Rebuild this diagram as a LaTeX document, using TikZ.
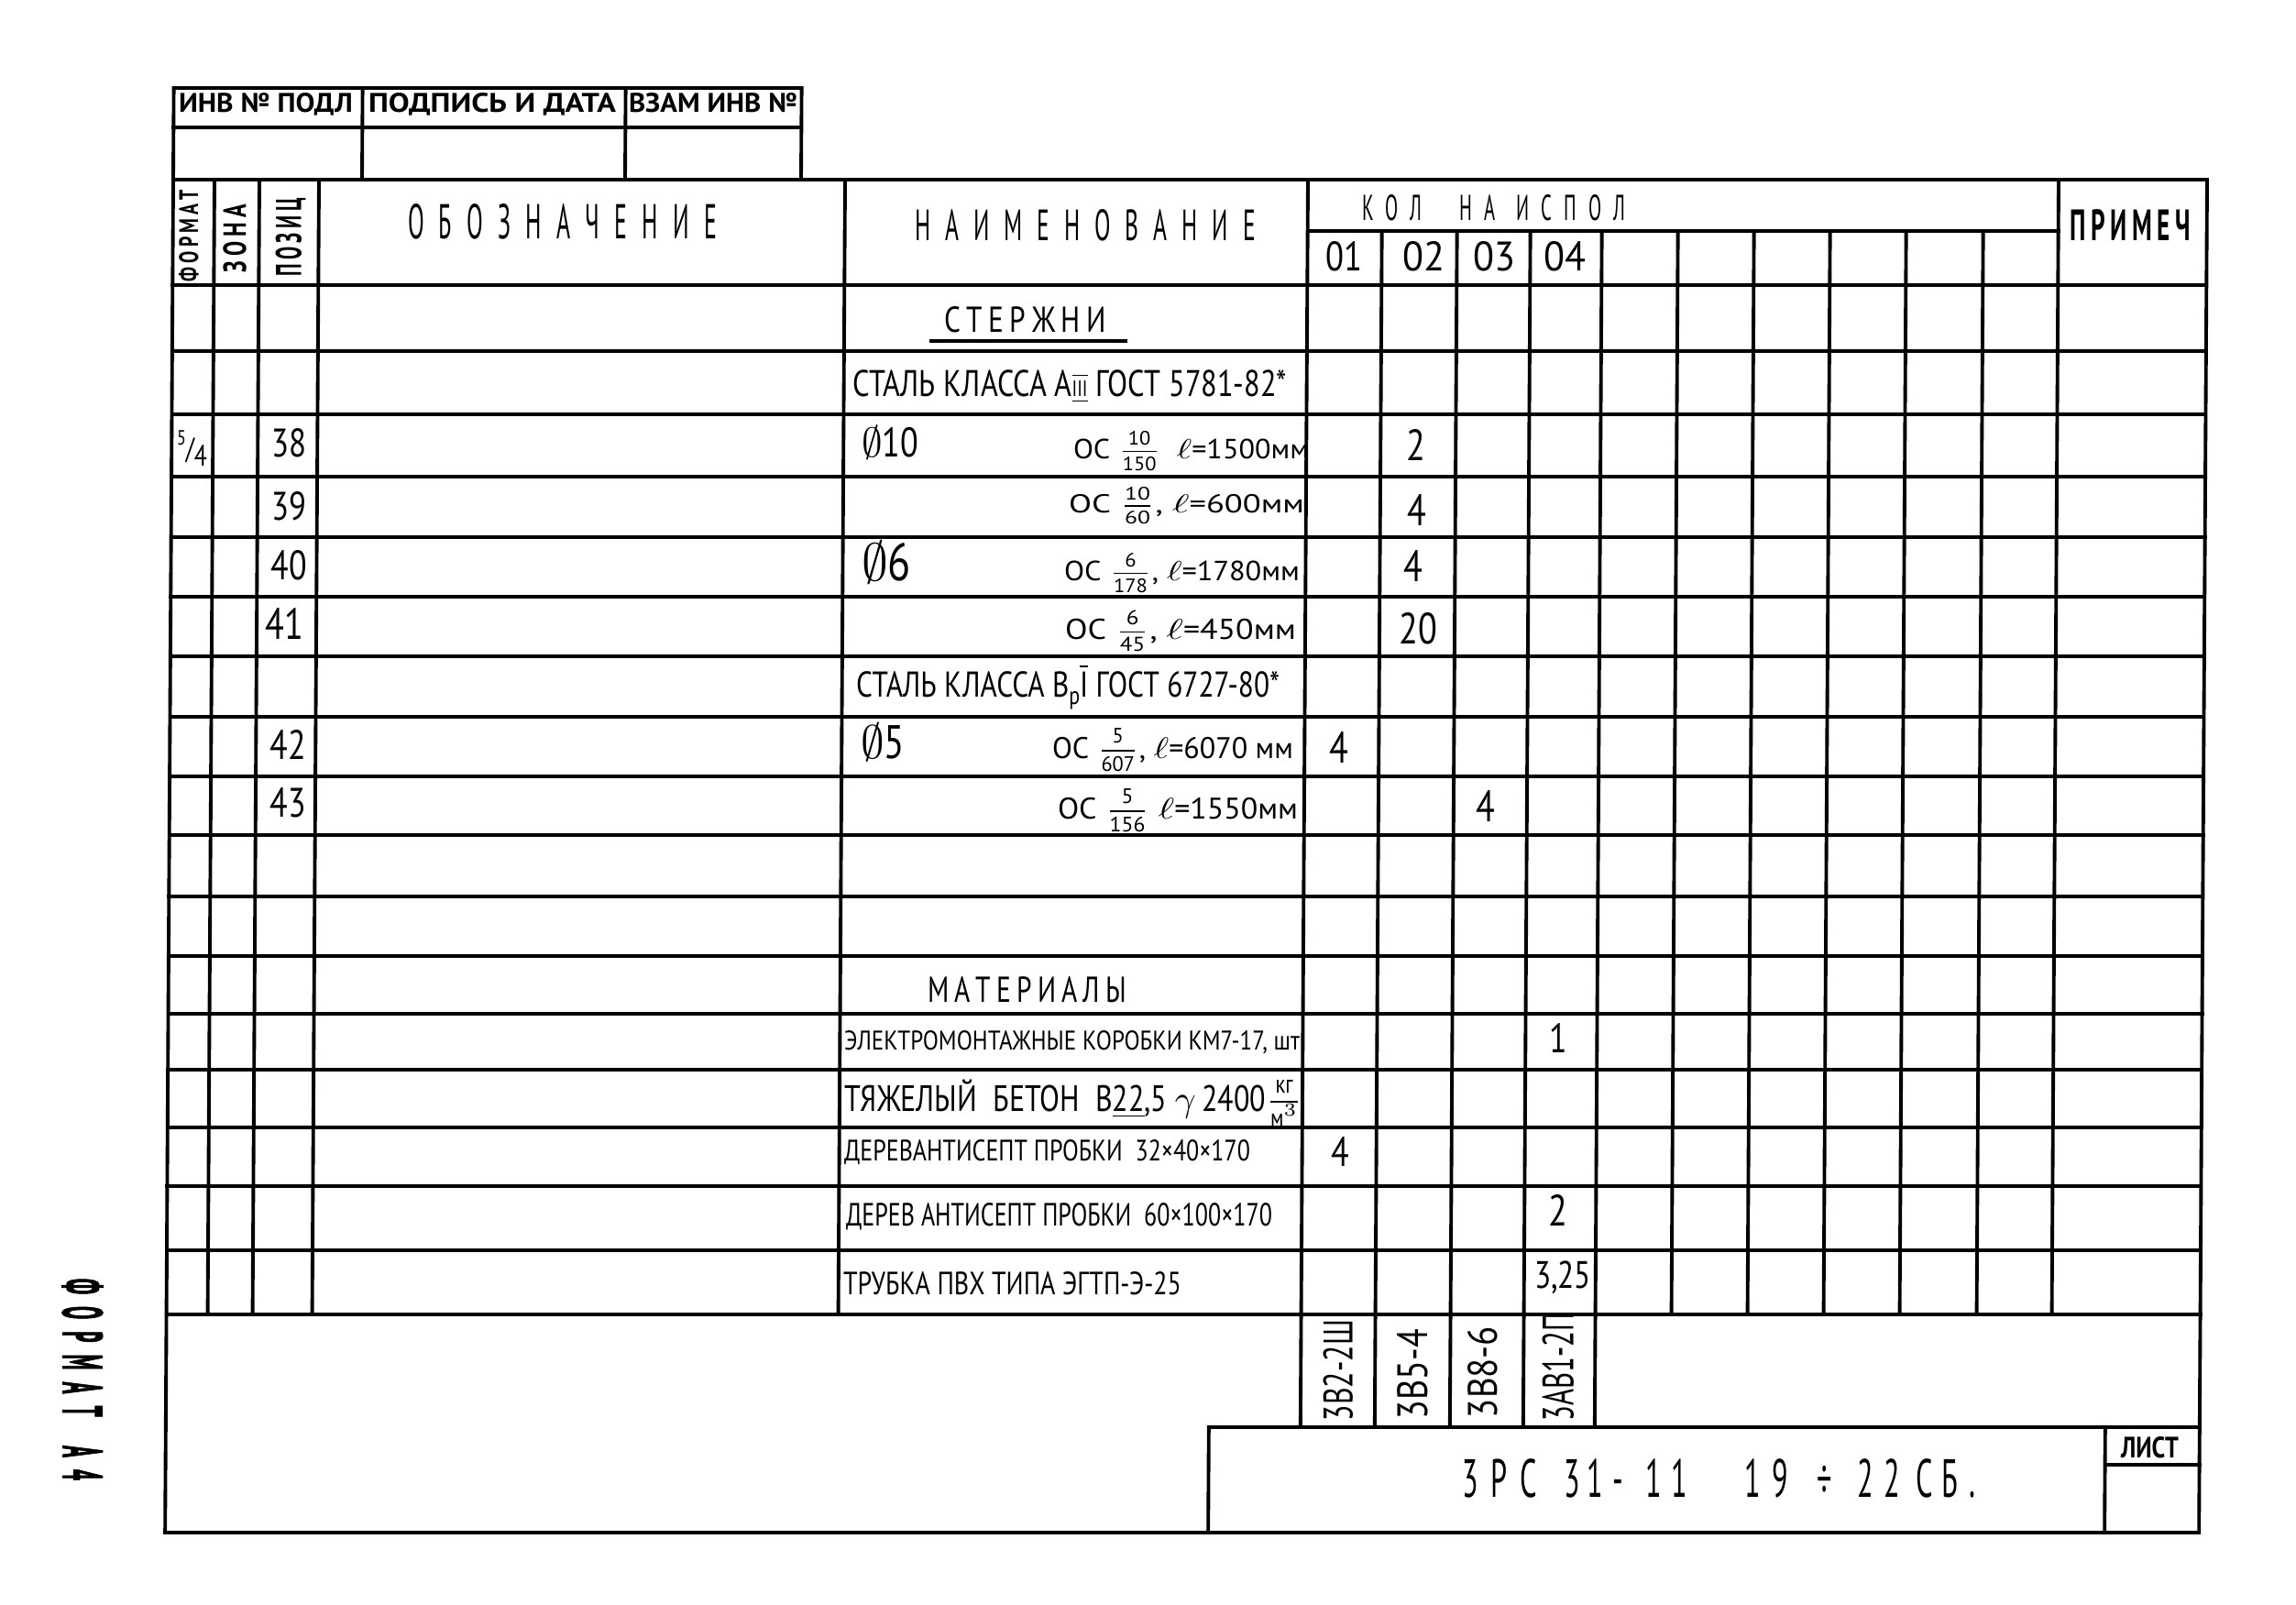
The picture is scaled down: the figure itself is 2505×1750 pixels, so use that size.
\documentclass[tikz,border=0pt]{standalone}
\usepackage{fontspec}
\usepackage{graphicx}
\setmainfont{PT Sans}[FakeStretch=0.8]
\newfontfamily\tfontX{PT Sans}[FakeStretch=0.55]
\newfontfamily\heavyX{PT Sans}[FakeStretch=0.8,FakeBold=2]
\newlength\uxx
\setlength\uxx{0.01cm}
\newcommand\Fit[3]{\resizebox{#1\uxx}{#2\uxx}{#3}}
\newcommand\Fw[2]{\resizebox{#1\uxx}{!}{#2}}
\newcommand\Fh[2]{\resizebox{!}{#1\uxx}{#2}}
\newcommand\Gs{\hspace{0.5em}}
\newcommand\Fr[2]{$\frac{\mbox{\fontsize{7}{7}\selectfont\raisebox{1pt}{#1}}}{\mbox{\fontsize{7}{7}\selectfont\raisebox{-1pt}{#2}}}$}
\begin{document}
\begin{tikzpicture}[x=0.01cm,y=-0.01cm,
  ln/.style={line width=1.1pt,line cap=rect},
  tx/.style={inner sep=0pt,outer sep=0pt,anchor=base west},
  tb/.style={inner sep=0pt,outer sep=0pt,anchor=base},
  tr/.style={inner sep=0pt,outer sep=0pt,anchor=center}]
\fill[white] (0,0) rectangle (2505,1750);
\begin{scope}[xslant=0.006,xshift=0.0118cm]
% top small table
\draw[ln] (189,96) rectangle (874,196);
\draw[ln] (189,139) -- (874,139);
\draw[ln] (395,96) -- (395,196);
\draw[ln] (682,96) -- (682,196);
% frame
\draw[ln] (189,196) -- (2408,196);
\draw[ln] (189,196) -- (189,1672) -- (2408,1672) -- (2408,196);
\foreach \y in {311,383,452,520,586,651,716,782,847,911,978,1043,1106,1167,1230,1294,1364,1434}
  \draw[ln] (189,\y) -- (2408,\y);
\draw[ln] (1427,252) -- (2246,252);
\foreach \x in {234,283,348,922,1427,2246} \draw[ln] (\x,196) -- (\x,1434);
\foreach \x in {1508,1590,1670,1748,1831,1914,1997,2080,2164} \draw[ln] (\x,252) -- (\x,1434);
\foreach \x in {1427,1508,1590,1670,1748} \draw[ln] (\x,1434) -- (\x,1557);
\draw[ln] (1327,1672) -- (1327,1557) -- (2408,1557);
\draw[ln] (2305,1557) -- (2305,1672);
\draw[ln] (2305,1598) -- (2408,1598);
\end{scope}
% top small table texts
\node[tx] (h1) at (195,122) {\Fit{190}{21}{\bfseries ИНВ № ПОДЛ}};
\node[tx] (h2) at (402,122) {\Fit{270}{21}{\bfseries ПОДПИСЬ И ДАТА}};
\node[tx] (h3) at (686,122) {\Fit{184}{21}{\bfseries ВЗАМ ИНВ №}};
% header
\node[tr,rotate=90] (h4) at (206,257) {\Fit{100}{21}{\bfseries Ф\,О\,Р\,М\,А\,Т}};
\node[tr,rotate=90] (h5) at (256,260) {\Fit{74}{25}{\bfseries З\,О\,Н\,А}};
\node[tr,rotate=90] (h6) at (317,259) {\Fit{85}{28}{\bfseries П\,О\,З\,И\,Ц}};
\node[tx] (h7) at (445,260) {\Fit{337}{38}{О\Gs Б\Gs О\Gs З\Gs Н\Gs А\Gs Ч\Gs Е\Gs Н\Gs И\Gs Е}};
\node[tx] (h8) at (998,262) {\Fit{372}{34}{Н\Gs А\Gs И\Gs М\Gs Е\Gs Н\Gs О\Gs В\Gs А\Gs Н\Gs И\Gs Е}};
\node[tx] (h9) at (1486,240) {\Fit{287}{28}{К\Gs О\Gs Л\hspace{1.6em}Н\Gs А\hspace{0.9em}И\Gs С\Gs П\Gs О\Gs Л}};
\node[tb] (c1) at (1466,295) {\Fit{40}{32}{01}};
\node[tb] (c2) at (1553,295) {\Fit{46}{32}{02}};
\node[tb] (c3) at (1630,295) {\Fit{46}{32}{03}};
\node[tb] (c4) at (1707,295) {\Fit{46}{32}{04}};
\node[tx] (h10) at (2258,262) {\Fit{132}{34}{\bfseries П\,Р\,И\,М\,Е\,Ч}};
% body
\node[tx] (b1) at (1030,362) {\Fit{177}{28}{С\,Т\,Е\,Р\,Ж\,Н\,И}};
\draw[line width=0.9pt] (1014,372) -- (1230,372);
\node[tx] (b2) at (930,432) {\Fw{474}{СТАЛЬ КЛАССА А{\fontsize{6}{6}\selectfont$\overline{\underline{\mbox{III}}}$} ГОСТ 5781-82*}};
\node[tx] (b3) at (940,498) {\Fw{62}{$\emptyset$10}};
\node[tx] (b4) at (1171,500) {\Fit{257}{30}{ОС \Fr{10}{150}\ \ $\ell$=1500мм}};
\node[tx] (b5) at (1166,559) {\Fit{257}{28}{ОС \Fr{10}{60}, $\ell$=600мм}};
\node[tx] (b6) at (940,633) {\Fw{54}{$\emptyset$6}};
\node[tx] (b7) at (1161,633) {\Fit{257}{30}{ОС \Fr{6}{178}, $\ell$=1780мм}};
\node[tx] (b8) at (1162,697) {\Fit{252}{31}{ОС \Fr{6}{45}, $\ell$=450мм}};
\node[tx] (b9) at (934,760) {\Fw{462}{СТАЛЬ КЛАССА В\raisebox{-0.45ex}{\fontsize{7}{7}\selectfont р}$\overline{\mbox{I}}$ ГОСТ 6727-80*}};
\node[tx] (b10) at (939,827) {\Fw{48}{$\emptyset$5}};
\node[tx] (b11) at (1148,827) {\Fit{263}{32}{ОС \Fr{5}{607}, $\ell$=6070 мм}};
\node[tx] (b12) at (1154,893) {\Fit{262}{32}{ОС \Fr{5}{156} $\ell$=1550мм}};
\node[tx] (m0) at (1012,1093) {\Fit{217}{28}{М\,А\,Т\,Е\,Р\,И\,А\,Л\,Ы}};
\node[tx] (m1) at (921,1145) {\Fit{497}{21}{ЭЛЕКТРОМОНТАЖНЫЕ КОРОБКИ КМ7-17, шт}};
\node[tx] (m2) at (921,1212) {\Fw{500}{ТЯЖЕЛЫЙ\ \ БЕТОН\ \ В\underline{22},5 $\gamma$\,2400\Fr{кг}{м$^3$}}};
\node[tx] (m3) at (921,1266) {\Fit{443}{23}{ДЕРЕВАНТИСЕПТ ПРОБКИ\ \ 32×40×170}};
\node[tx] (m4) at (923,1337) {\Fit{465}{25}{ДЕРЕВ АНТИСЕПТ ПРОБКИ\ \ 60×100×170}};
\node[tx] (m5) at (920,1412) {\Fit{369}{25}{ТРУБКА ПВХ ТИПА ЭГТП-Э-25}};
% quantities
\node[tb] (q1) at (1545,502) {\Fh{34}{2}};
\node[tb] (q2) at (1546,573) {\Fh{34}{4}};
\node[tb] (q3) at (1542,634) {\Fh{34}{4}};
\node[tb] (q4) at (1547,702) {\Fh{34}{20}};
\node[tb] (q5) at (1461,832) {\Fh{34}{4}};
\node[tb] (q6) at (1621,896) {\Fh{34}{4}};
\node[tb] (q7) at (1700,1148) {\Fh{32}{1}};
\node[tb] (q8) at (1462,1272) {\Fh{32}{4}};
\node[tb] (q9) at (1700,1337) {\Fh{34}{2}};
\node[tb] (q10) at (1705,1405) {\Fw{62}{3,25}};
% positions
\node[tb] (p1) at (315,498) {\Fh{31}{38}};
\node[tb] (p2) at (315,567) {\Fh{31}{39}};
\node[tb] (p3) at (315,632) {\Fh{32}{40}};
\node[tb] (p4) at (310,697) {\Fh{34}{41}};
\node[tb] (p5) at (314,828) {\Fh{32}{42}};
\node[tb] (p6) at (314,891) {\Fh{32}{43}};
\node[tx] (f1) at (193,500) {\Fw{33}{\raisebox{0.9ex}{\fontsize{7}{7}\selectfont 5}/\raisebox{-0.5ex}{4}}};
% lower rotated
\node[tr,rotate=90] (l1) at (1460,1495) {\Fit{110}{32}{3В2-2Ш}};
\node[tr,rotate=90] (l2) at (1541,1499) {\Fit{98}{33}{3В5-4}};
\node[tr,rotate=90] (l3) at (1618,1497) {\Fit{100}{32}{3В8-6}};
\node[tr,rotate=90] (l4) at (1700,1491) {\Fit{118}{34}{3АВ1-2П}};
% title
\foreach \c/\x [count=\i] in {3/1604,Р/1636,С/1668,3/1715,1/1740,-/1765,1/1804,1/1832,1/1912,9/1942,÷/1991,2/2035,2/2064,С/2100,Б/2127,./2152}
  \node[tb,font=\tfontX\fontsize{16.7}{20}\selectfont] (t\i) at (\x,1633) {\c};
\node[tx] (ls) at (2314,1590) {\Fit{63}{23}{\bfseries ЛИСТ}};
\node[tr,rotate=-90] (fa) at (90,1505) {\Fit{220}{44}{\heavyX\bfseries Ф\Gs О\Gs Р\Gs М\Gs А\Gs Т\hspace{1.2em}А\Gs 4}};
\end{tikzpicture}
\end{document}
